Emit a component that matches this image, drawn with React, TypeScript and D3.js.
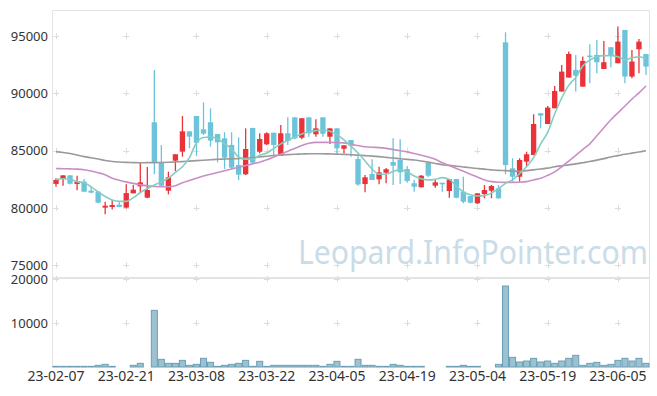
import * as d3 from "d3";
import { useEffect, useRef } from "react";

const dates = [
  "23-02-07", "23-02-08", "23-02-09", "23-02-10", "23-02-13", "23-02-14", "23-02-15", "23-02-16", "23-02-17", "23-02-20",
  "23-02-21", "23-02-22", "23-02-23", "23-02-24", "23-02-27", "23-02-28", "23-03-02", "23-03-03", "23-03-06", "23-03-07",
  "23-03-08", "23-03-09", "23-03-10", "23-03-13", "23-03-14", "23-03-15", "23-03-16", "23-03-17", "23-03-20", "23-03-21",
  "23-03-22", "23-03-23", "23-03-24", "23-03-27", "23-03-28", "23-03-29", "23-03-30", "23-03-31", "23-04-03", "23-04-04",
  "23-04-05", "23-04-06", "23-04-07", "23-04-10", "23-04-11", "23-04-12", "23-04-13", "23-04-14", "23-04-17", "23-04-18",
  "23-04-19", "23-04-20", "23-04-21", "23-04-24", "23-04-25", "23-04-26", "23-04-27", "23-04-28", "23-05-02", "23-05-03",
  "23-05-04", "23-05-08", "23-05-09", "23-05-10", "23-05-11", "23-05-12", "23-05-15", "23-05-16", "23-05-17", "23-05-18",
  "23-05-19", "23-05-22", "23-05-23", "23-05-24", "23-05-25", "23-05-26", "23-05-30", "23-05-31", "23-06-01", "23-06-02",
  "23-06-05", "23-06-07", "23-06-08", "23-06-09", "23-06-12",
];

const open = [
  82100, 82550, 82850, 82100, 82300, 81520, 81430, 80030, 80090, 80290,
  80030, 81280, 81890, 80900, 87480, 83990, 81510, 84130, 84920, 86690,
  88030, 86870, 87480, 86460, 86080, 85500, 83750, 82940, 86980, 84910,
  85560, 86570, 84560, 86520, 87910, 86130, 87910, 86430, 87910, 86220,
  86950, 85170, 85930, 84270, 82090, 82970, 82500, 83080, 84010, 84190,
  83400, 82160, 81810, 83930, 81950, 82200, 81480, 82530, 81420, 81050,
  80410, 81220, 81510, 81720, 94460, 83460, 82730, 84040, 84620, 88270,
  87330, 88700, 90160, 91380, 92050, 90590, 93300, 93360, 92130, 94030,
  92630, 95540, 91470, 93850, 93440,
];
const high = [
  82600, 82850, 82850, 82820, 82530, 81860, 81480, 80550, 80700, 80550,
  82070, 82000, 83990, 83580, 92050, 85500, 83170, 84690, 88030, 86690,
  88030, 89220, 88700, 86460, 86610, 86610, 86170, 86950, 87000, 86520,
  86610, 86570, 87240, 87910, 87910, 87850, 87910, 87740, 87910, 86950,
  86950, 85470, 85930, 84620, 82880, 84250, 83600, 83490, 86080, 85990,
  83660, 82440, 82880, 83930, 82440, 82200, 82500, 82530, 82730, 81050,
  81280, 82000, 82010, 82000, 95330, 84340, 84340, 84910, 88180, 88270,
  88900, 90650, 92480, 93650, 93360, 93210, 94290, 94670, 94580, 94030,
  95830, 95540, 93790, 94750, 93440,
];
const low = [
  81850, 81950, 82050, 81550, 81420, 81280, 80410, 79450, 79880, 80090,
  79970, 81280, 81280, 80840, 82940, 81860, 81190, 83230, 84480, 85210,
  84540, 86370, 85350, 83990, 83400, 83400, 82440, 82880, 83930, 84770,
  85500, 84620, 84540, 85500, 85990, 86000, 86220, 86220, 86220, 85590,
  84620, 84770, 84480, 81950, 81370, 82440, 82070, 82160, 82010, 82090,
  82210, 81420, 81780, 82700, 81770, 81420, 80900, 80850, 80410, 80410,
  80350, 80850, 80850, 80790, 82940, 82300, 82300, 83600, 84620, 86950,
  87330, 88700, 90160, 91380, 90160, 90590, 90880, 91760, 92130, 92280,
  92630, 90880, 91320, 91760, 91610,
];
const close = [
  82450, 82850, 82120, 82300, 81420, 81340, 80470, 80200, 80260, 80090,
  81300, 81600, 82240, 81570, 83990, 81950, 82680, 84690, 86690, 86230,
  85700, 86490, 85880, 85730, 84390, 83520, 82910, 85150, 83960, 86020,
  86520, 85500, 86520, 85850, 86080, 87830, 86520, 86950, 86480, 86950,
  85210, 85470, 85440, 82050, 82680, 82440, 83110, 83380, 83690, 83110,
  82360, 81860, 82820, 82820, 82240, 82100, 82500, 80900, 80550, 80460,
  81280, 81570, 81920, 80850, 83750, 82730, 84190, 84690, 87330, 88060,
  88760, 90210, 91900, 93440, 91550, 92830, 93200, 92720, 92720, 93270,
  94520, 91470, 92780, 94520, 92340,
];
const volume = [
  150, 150, 150, 150, 150, 150, 380, 600, 150, 0,
  0, 380, 830, 0, 12880, 1740, 830, 830, 1510, 380,
  600, 1970, 1060, 150, 380, 600, 830, 1510, 150, 1290,
  150, 380, 380, 380, 380, 380, 380, 380, 150, 600,
  1290, 150, 150, 1740, 380, 380, 150, 150, 600, 380,
  150, 150, 150, 0, 0, 0, 150, 150, 380, 150,
  150, 0, 0, 600, 18400, 2200, 1140, 1360, 1970, 1140,
  1360, 830, 1360, 1970, 2650, 380, 830, 1060, 380, 600,
  1510, 1970, 1360, 1970, 830,
];

// moving averages as shown on the chart (they use days before the window)
const ma5 = [
  82500, 82550, 82500, 82300, 82200, 81850, 81400, 81000, 80700, 80580,
  80580, 80900, 81350, 81700, 82000, 82300, 82600, 83100, 83600, 84400,
  85700, 86150, 86200, 86050, 85600, 85150, 84450, 84250, 84250, 84600,
  84800, 85200, 85600, 85900, 86200, 86450, 86650, 86750, 86800, 86700,
  86400, 85950, 85400, 84800, 84100, 83400, 82950, 82950, 83200, 83350,
  83150, 82800, 82550, 82450, 82500, 82650, 82500, 81900, 81400, 81150,
  81050, 81100, 81300, 81700, 82150, 82450, 83000, 83600, 84400, 85600,
  86600, 88200, 89600, 90700, 91400, 92400, 92900, 93200, 93300, 93300,
  93200, 92950, 93100, 93200, 93050,
];
const ma20 = [
  83450, 83430, 83410, 83390, 83340, 83230, 83080, 82900, 82600, 82430,
  82280, 82150, 82030, 81930, 81880, 81850, 81860, 81950, 82200, 82400,
  82600, 82800, 82950, 83100, 83250, 83400, 83550, 83700, 83850, 84000,
  84200, 84450, 84700, 84950, 85200, 85450, 85650, 85730, 85730, 85730,
  85710, 85680, 85550, 85450, 85350, 85300, 85270, 85200, 85100, 85000,
  84900, 84750, 84600, 84450, 84250, 83950, 83700, 83450, 83200, 82950,
  82700, 82450, 82300, 82250, 82240, 82240, 82250, 82300, 82450, 82590,
  82850, 83150, 83600, 84100, 84600, 85100, 85600, 86300, 87000, 87700,
  88300, 88900, 89500, 90050, 90650,
];
const ma60 = [
  84920, 84850, 84750, 84620, 84480, 84380, 84270, 84150, 84060, 84010,
  83980, 83960, 83950, 83960, 83960, 83970, 83990, 84020, 84050, 84090,
  84130, 84170, 84210, 84250, 84270, 84290, 84310, 84340, 84400, 84460,
  84520, 84580, 84630, 84660, 84690, 84710, 84730, 84740, 84730, 84720,
  84700, 84680, 84650, 84610, 84570, 84530, 84480, 84420, 84360, 84300,
  84240, 84190, 84100, 84000, 83890, 83780, 83720, 83650, 83580, 83510,
  83450, 83390, 83330, 83280, 83260, 83230, 83200, 83260, 83330, 83400,
  83480, 83600, 83680, 83760, 83850, 83950, 84050, 84180, 84310, 84450,
  84570, 84690, 84790, 84890, 84990,
];

const priceTicks = [75000, 80000, 85000, 90000, 95000];
const volumeTicks = [10000, 20000];

const UP = "#ea3339";
const DOWN = "#6cc3da";
const FONT = "'Noto Sans', sans-serif";

const App = () => {
  const ref = useRef<SVGSVGElement>(null);

  useEffect(() => {
    const svg = d3.select(ref.current);
    svg.selectAll("*").remove();

    const left = 52.5,
      right = 649.5,
      top = 10.5,
      split = 278,
      bottom = 367;

    const idx = d3.range(dates.length);
    const x = d3.scaleBand<number>().domain(idx).range([left, right]);
    const bw = x.bandwidth();
    const cx = (i: number) => x(i)! + bw / 2;

    const y = d3.scaleLinear().domain([75000, 95000]).range([265.3, 36.1]);
    const yv = d3.scaleLinear().domain([0, 20000]).range([bottom, 279]);

    // frame
    const frame = svg.append("g").attr("stroke", "#e3e3e3").attr("fill", "none");
    frame.append("line").attr("x1", left).attr("x2", right).attr("y1", top).attr("y2", top);
    frame.append("line").attr("x1", left).attr("x2", left).attr("y1", top).attr("y2", bottom);
    frame.append("line").attr("x1", right).attr("x2", right).attr("y1", top).attr("y2", bottom);
    frame.append("line").attr("x1", left).attr("x2", right).attr("y1", split).attr("y2", split).attr("stroke-width", 2);

    // "+" grid markers
    const tickIdx = idx.filter((i) => i % 10 === 0);
    const marks: [number, number][] = [];
    tickIdx.forEach((i) => {
      priceTicks.forEach((p) => marks.push([cx(i), y(p)]));
      volumeTicks.forEach((v) => marks.push([cx(i), yv(v)]));
    });
    svg
      .append("g")
      .selectAll("path")
      .data(marks)
      .join("path")
      .attr("d", (d) => `M${d[0] - 3},${Math.round(d[1]) + 0.5}h6M${Math.round(d[0]) + 0.5},${d[1] - 3}v6`)
      .attr("stroke", "#dcdcdc")
      .attr("fill", "none");

    // watermark
    svg
      .append("text")
      .attr("x", 298)
      .attr("y", 264)
      .attr("textLength", 350)
      .attr("lengthAdjust", "spacingAndGlyphs")
      .attr("font-family", FONT)
      .attr("font-size", 33)
      .attr("fill", "#c9dce7")
      .text("Leopard.InfoPointer.com");

    // axes
    const yAxis = svg
      .append("g")
      .attr("transform", `translate(${left},0)`)
      .call(d3.axisLeft(y).tickValues(priceTicks).tickSize(0).tickPadding(4.5).tickFormat(d3.format("d")));
    const vAxis = svg
      .append("g")
      .attr("transform", `translate(${left},0)`)
      .call(d3.axisLeft(yv).tickValues(volumeTicks).tickSize(0).tickPadding(4.5).tickFormat(d3.format("d")));
    const xAxis = svg
      .append("g")
      .attr("transform", `translate(0,${bottom})`)
      .call(d3.axisBottom(x).tickValues(tickIdx).tickSize(0).tickPadding(4).tickFormat((i) => dates[i as number]));
    [yAxis, vAxis, xAxis].forEach((g) => {
      g.select(".domain").remove();
      g.selectAll("text").attr("font-family", FONT).attr("fill", "#333");
    });
    yAxis.selectAll("text").attr("font-size", 13);
    vAxis.selectAll("text").attr("font-size", 13);
    xAxis.selectAll("text").attr("font-size", 14);

    // volume bars
    svg
      .append("g")
      .selectAll("rect")
      .data(idx.filter((i) => volume[i] > 0))
      .join("rect")
      .attr("x", (i) => x(i)! + 0.5)
      .attr("y", (i) => yv(volume[i]))
      .attr("width", bw - 1)
      .attr("height", (i) => bottom - yv(volume[i]))
      .attr("fill", "#9cc1d1")
      .attr("stroke", "#6c9fb5")
      .attr("stroke-width", 1);

    // candles
    const bodyW = bw * 0.76;
    const candles = svg.append("g");
    candles
      .selectAll("line")
      .data(idx)
      .join("line")
      .attr("x1", cx)
      .attr("x2", cx)
      .attr("y1", (i) => y(high[i]))
      .attr("y2", (i) => y(low[i]))
      .attr("stroke", (i) => (close[i] >= open[i] ? UP : DOWN))
      .attr("stroke-width", 1.3);
    candles
      .selectAll("rect")
      .data(idx)
      .join("rect")
      .attr("x", (i) => cx(i) - bodyW / 2)
      .attr("y", (i) => y(Math.max(open[i], close[i])))
      .attr("width", bodyW)
      .attr("height", (i) => Math.max(1.5, Math.abs(y(open[i]) - y(close[i]))))
      .attr("fill", (i) => (close[i] >= open[i] ? UP : DOWN));

    // moving average lines
    const lines: [number[], string][] = [
      [ma60, "#9a9a9a"],
      [ma20, "#c98fc4"],
      [ma5, "#86cdc1"],
    ];
    lines.forEach(([vals, color]) => {
      svg
        .append("path")
        .datum(idx)
        .attr(
          "d",
          d3
            .line<number>()
            .x(cx)
            .y((i) => y(vals[i]))
            .curve(d3.curveMonotoneX)
        )
        .attr("fill", "none")
        .attr("stroke", color)
        .attr("stroke-width", 1.6);
    });
  });

  return (
    <svg
      ref={ref}
      width={657}
      height={396}
      style={{ position: "absolute", left: 0, top: 0, background: "#fff" }}
    />
  );
};

export default App;
